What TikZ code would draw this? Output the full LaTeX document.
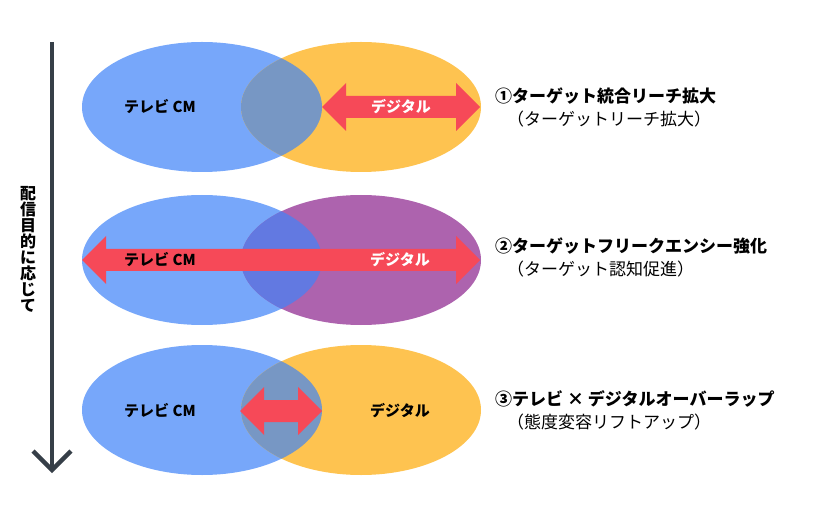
\documentclass[tikz,border=0pt]{standalone}
\usepackage{fontspec}
\setmainfont{Noto Sans CJK JP}
\definecolor{tvblue}{HTML}{77A7FA}
\definecolor{digorange}{HTML}{FEC350}
\definecolor{lapblue}{HTML}{7797C4}
\definecolor{digpurple}{HTML}{AD63AE}
\definecolor{lappurple}{HTML}{6279E1}
\definecolor{arrred}{HTML}{F64958}
\definecolor{axisgray}{HTML}{363F48}
\newcommand\dblarrow[3]{%
  \fill[arrred] (#1,#3) -- ++(24,-24) -- ++(0,13) -- ({#2-24},{#3-11}) -- ++(0,-13)
    -- (#2,#3) -- ++(-24,24) -- ++(0,-13) -- ({#1+24},{#3+11}) -- ++(0,13) -- cycle;}
\begin{document}
\begin{tikzpicture}[x=1pt,y=-1pt,
  lbl/.style={font=\bfseries\fontsize{15}{15}\selectfont, inner sep=0pt},
  headtxt/.style={font=\bfseries\fontsize{17}{17}\selectfont, anchor=west, inner sep=0pt},
  subtxt/.style={font=\fontsize{17}{17}\selectfont, anchor=west, inner sep=0pt},
  ell/.style={x radius=120pt, y radius=65pt}]
\useasboundingbox (0,0) rectangle (818,518);
% axis
\coordinate (axtop) at (52,42);
\coordinate (axbot) at (52,470);
\coordinate (chl) at (33,451);
\coordinate (chr) at (71,451);
\draw[axisgray, line width=4.5pt] (axtop) -- (axbot);
\draw[axisgray, line width=4.5pt, line join=miter] (chl) -- (axbot) -- (chr);
\node[font=\bfseries\fontsize{16}{16}\selectfont, align=center, inner sep=0pt] (axlbl) at (28,249) {配\\信\\目\\的\\に\\応\\じ\\て};
% row 1
\fill[tvblue] (202,107) ellipse [ell];
\fill[digorange] (361,107) ellipse [ell];
\begin{scope}
  \clip (202,107) ellipse [ell];
  \fill[lapblue] (361,107) ellipse [ell];
\end{scope}
\dblarrow{322}{480}{107}
\node[lbl] (tv1) at (160,107) {テレビ CM};
\node[lbl, text=white] (dg1) at (401,107) {デジタル};
\node[headtxt] (h1) at (495,96) {①ターゲット統合リーチ拡大};
\node[subtxt] (s1) at (507,119) {（ターゲットリーチ拡大）};
% row 2
\fill[tvblue] (202,260) ellipse [ell];
\fill[digpurple] (361,260) ellipse [ell];
\begin{scope}
  \clip (202,260) ellipse [ell];
  \fill[lappurple] (361,260) ellipse [ell];
\end{scope}
\dblarrow{82}{480}{260}
\node[lbl] (tv2) at (160,260) {テレビ CM};
\node[lbl, text=white] (dg2) at (400,260) {デジタル};
\node[headtxt] (h2) at (495,246) {②ターゲットフリークエンシー強化};
\node[subtxt] (s2) at (507,269) {（ターゲット認知促進）};
% row 3
\fill[tvblue] (202,410) ellipse [ell];
\fill[digorange] (361,410) ellipse [ell];
\begin{scope}
  \clip (202,410) ellipse [ell];
  \fill[lapblue] (361,410) ellipse [ell];
\end{scope}
\dblarrow{240}{322}{411}
\node[lbl] (tv3) at (160,411) {テレビ CM};
\node[lbl] (dg3) at (400,411) {デジタル};
\node[headtxt] (h3) at (495,399) {③テレビ × デジタルオーバーラップ};
\node[subtxt] (s3) at (507,422) {（態度変容リフトアップ）};
\end{tikzpicture}
\end{document}
